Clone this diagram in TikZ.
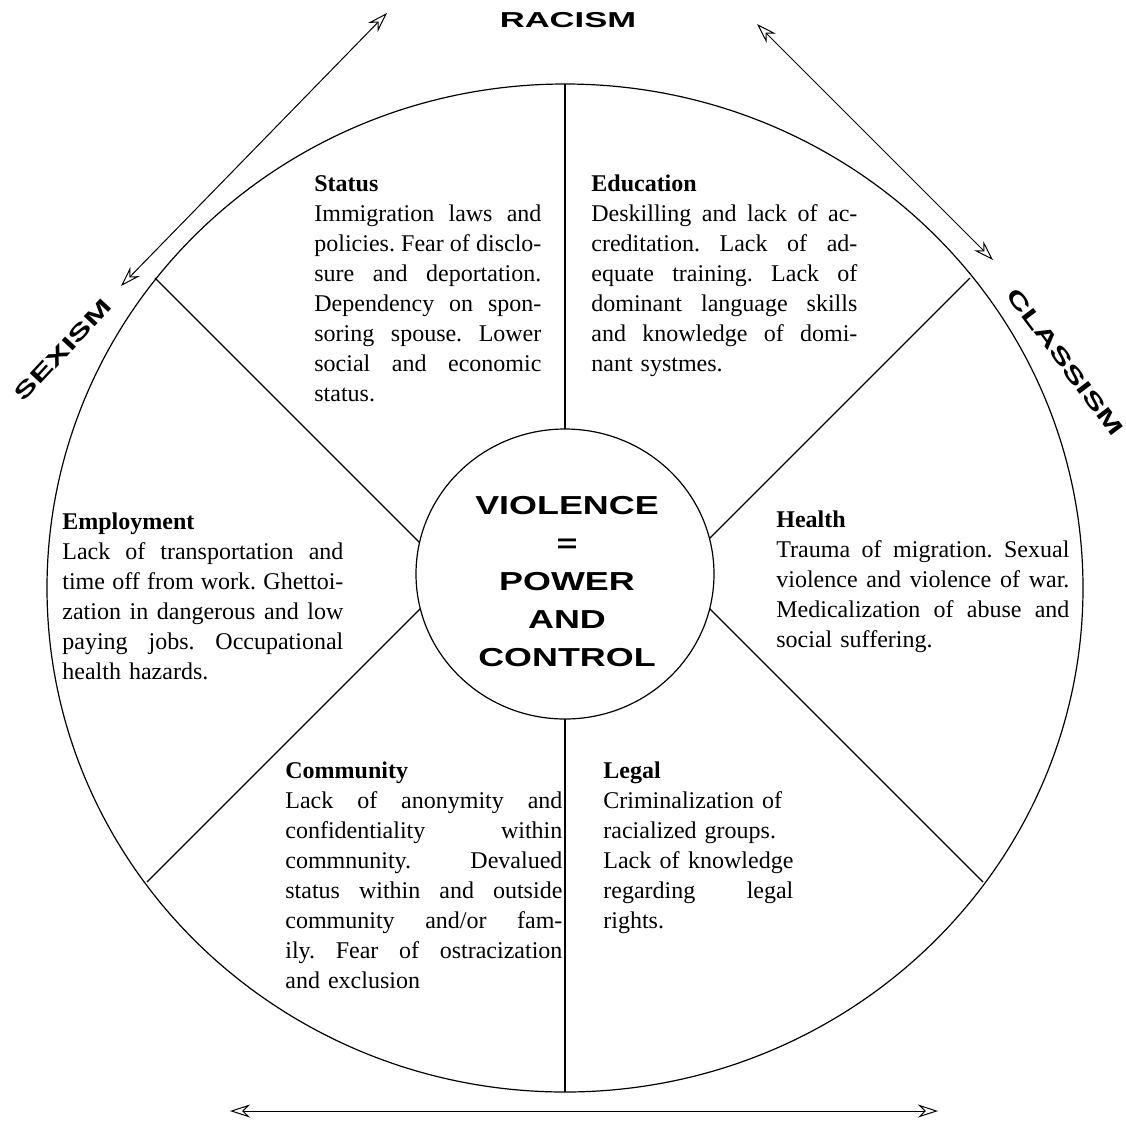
\documentclass[tikz,border=0pt]{standalone}
\usepackage{fontspec}
\usepackage{graphicx}
\setmainfont{Liberation Serif}
\newfontfamily\capsfont{Liberation Sans}
\usetikzlibrary{arrows.meta}

% one justified line of a sector text
\newcommand\jline[1]{\hbox to\hsize{\spaceskip=0.25em plus 3em minus 0.08em #1}}
% extended capitals
\newcommand\wideism[1]{\scalebox{1.6}[1]{#1}}
\newcommand\widehub[1]{\scalebox{1.38}[1]{#1}}

\tikzset{
  wheel/.style={line width=0.6pt},
  ism/.style={font=\capsfont\bfseries\fontsize{10.8}{12}\selectfont, inner sep=0pt},
  hub/.style={font=\capsfont\bfseries\fontsize{13}{19}\selectfont, align=center, inner sep=0pt},
  sector/.style={anchor=base west, inner sep=0pt, align=left, font=\frenchspacing\fontsize{12}{15}\selectfont},
  twoway/.style={line width=0.5pt, {Stealth[open,length=10pt,width=6.5pt]}-{Stealth[open,length=10pt,width=6.5pt]}},
}

\begin{document}
\begin{tikzpicture}[x=0.5pt,y=-0.5pt]
    \useasboundingbox (0,0) rectangle (1126,1121);

    % outer wheel and spokes
    \draw[wheel] (565,588) ellipse [x radius=518, y radius=504];
    \draw[wheel] (565,84)--(565,1092);
    \draw[wheel] (155,278)--++(300,300);
    \draw[wheel] (970,278)--++(-300,300);
    \draw[wheel] (147,882)--++(300,-300);
    \draw[wheel] (983,882)--++(-300,-300);

    % hub
    \draw[wheel,fill=white] (565,574) ellipse [x radius=149, y radius=145];
    \node[hub] (hub) at (567,582) {\widehub{VIOLENCE}\\\widehub{=}\\\widehub{POWER}\\\widehub{AND}\\\widehub{CONTROL}};

    % the three -isms round the wheel
    \node[ism] (racism) at (568,20) {\wideism{RACISM}};
    \node[ism,rotate=47] (sexism) at (63,350) {\wideism{SEXISM}};
    \node[ism,rotate=-53] (classism) at (1065,362) {\wideism{CLASSISM}};

    \coordinate (sexA) at (121,286);
    \coordinate (sexB) at (387,13);
    \coordinate (clsA) at (757,24);
    \coordinate (clsB) at (993,260);
    \coordinate (botA) at (230,1111);
    \coordinate (botB) at (938,1111);
    \draw[twoway] (sexA)--(sexB);
    \draw[twoway] (clsA)--(clsB);
    \draw[twoway] (botA)--(botB);

    % sectors
    \node[sector,text width=113.5pt] (status) at (314,191) {\textbf{Status}\\
        \jline{Immigration laws and}
        \jline{policies. Fear of disclo-}
        \jline{sure and deportation.}
        \jline{Dependency on spon-}
        \jline{soring spouse. Lower}
        \jline{social and economic}
        status.};

    \node[sector,text width=133pt] (education) at (591,191) {\textbf{Education}\\
        \jline{Deskilling and lack of ac-}
        \jline{creditation. Lack of ad-}
        \jline{equate training. Lack of}
        \jline{dominant language skills}
        \jline{and knowledge of domi-}
        nant systmes.};

    \node[sector,text width=140.5pt] (employment) at (62,529) {\textbf{Employment}\\
        \jline{Lack of transportation and}
        \jline{time off from work. Ghettoi-}
        \jline{zation in dangerous and low}
        \jline{paying jobs. Occupational}
        health hazards.};

    \node[sector,text width=146.5pt] (health) at (776,527) {\textbf{Health}\\
        \jline{Trauma of migration. Sexual}
        \jline{violence and violence of war.}
        \jline{Medicalization of abuse and}
        social suffering.};

    \node[sector,text width=138.5pt] (community) at (285,778) {\textbf{Community}\\
        \jline{Lack of anonymity and}
        \jline{confidentiality within}
        \jline{commnunity. Devalued}
        \jline{status within and outside}
        \jline{community and/or fam-}
        \jline{ily. Fear of ostracization}
        and exclusion};

    \node[sector,text width=95pt] (legal) at (603,778) {\textbf{Legal}\\
        Criminalization of\\
        racialized groups.\\
        \jline{Lack of knowledge}
        \jline{regarding legal}
        rights.};
\end{tikzpicture}
\end{document}
